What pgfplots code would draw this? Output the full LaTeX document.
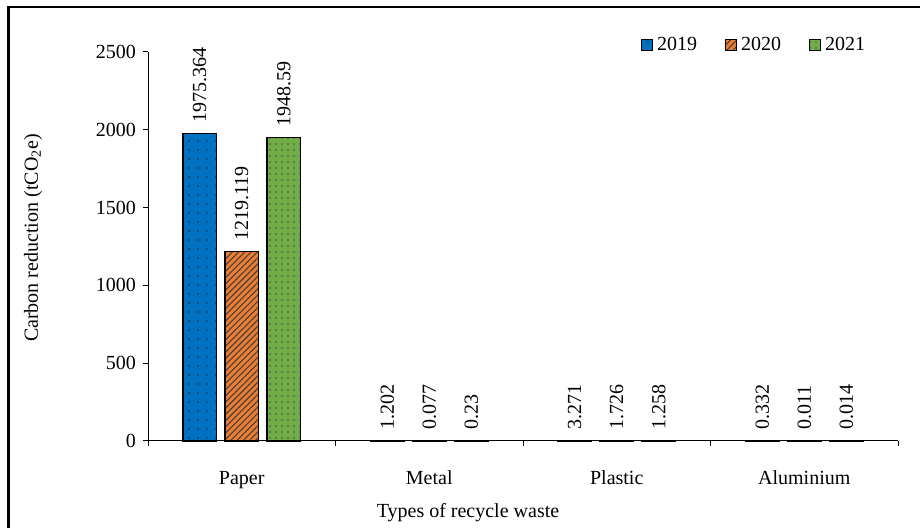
\documentclass[border=0pt]{standalone}
\usepackage{fontspec}
\setmainfont{Liberation Serif}
\usepackage{pgfplots}
\usepackage{pgfplotstable}
\pgfplotsset{compat=1.18}
\usetikzlibrary{patterns.meta}
\definecolor{c19}{HTML}{0070C0}
\definecolor{c20}{HTML}{ED7D31}
\definecolor{c21}{HTML}{70AD47}

\pgfplotstableread{
x y label
0 1975.364 1975.364
1 1.202 1.202
2 3.271 3.271
3 0.332 0.332
}\tA
\pgfplotstableread{
x y label
0 1219.119 1219.119
1 0.077 0.077
2 1.726 1.726
3 0.011 0.011
}\tB
\pgfplotstableread{
x y label
0 1948.59 1948.59
1 0.23 0.23
2 1.258 1.258
3 0.014 0.014
}\tC

\begin{document}
\fontsize{10}{12}\selectfont
\begin{tikzpicture}[x=1pt,y=1pt]
\path[use as bounding box] (0,0) rectangle (460,264);
\draw[line width=1.2pt] (4.25,-2) -- (4.25,260.5) -- (462,260.5);
\begin{axis}[
  at={(74pt,43.5pt)}, anchor=south west,
  width=375pt, height=194.5pt, scale only axis,
  ybar=4.25pt, bar width=16.75pt,
  xmin=-0.5, xmax=3.5, ymin=0, ymax=2500,
  axis x line*=bottom, axis y line*=left,
  axis line style={black, line width=0.5pt},
  clip=false,
  xtick={0,1,2,3},
  xticklabels={Paper,Metal,Plastic,Aluminium},
  minor xtick={-0.5,0.5,1.5,2.5,3.5},
  major x tick style={draw=none},
  minor x tick style={black, line width=0.5pt},
  ytick={0,500,1000,1500,2000,2500},
  y tick style={black, line width=0.5pt},
  tick align=outside,
  major tick length=2.5pt, minor tick length=2.5pt,
  scaled y ticks=false,
  /pgf/number format/1000 sep={},
  /pgf/number format/assume math mode=true,
  tick label style={font=\fontsize{10}{12}\selectfont},
  xticklabel style={anchor=base, yshift=-19.5pt},
  nodes near coords,
  point meta=explicit symbolic,
  every node near coord/.append style={rotate=90, anchor=west, inner sep=0pt, outer xsep=5.5pt, font=\fontsize{10}{12}\selectfont, text=black},
  legend columns=3,
  legend style={at={(0.657,1.018)}, anchor=west, draw=none, fill=none, inner sep=0pt, font=\fontsize{10}{12}\selectfont,
     /tikz/every even column/.append style={column sep=12pt}},
  legend image code/.code={\draw[#1, line width=0.5pt] (0pt,-2.75pt) rectangle (5.5pt,2.75pt);},
]
\addplot[fill=c19, draw=black, line width=0.6pt,
  postaction={pattern color=black!85, pattern={Dots[distance=4.5pt,radius=0.4pt]}}]
  table[x=x,y=y,meta=label]{\tA};
\addlegendentry{2019}
\addplot[fill=c20, draw=black, line width=0.6pt,
  postaction={pattern color=black!75, pattern={Lines[angle=45,distance=2.2pt,line width=0.55pt]}}]
  table[x=x,y=y,meta=label]{\tB};
\addlegendentry{2020}
\addplot[fill=c21, draw=black, line width=0.6pt,
  postaction={pattern color=black!70, pattern={Dots[distance=3pt,radius=0.45pt]}}]
  table[x=x,y=y,meta=label]{\tC};
\addlegendentry{2021}
\end{axis}
\node at (234,7.5) {Types of recycle waste};
\node[rotate=90] at (16.5,145) {Carbon reduction (tCO\textsubscript{2}e)};
\end{tikzpicture}
\end{document}
